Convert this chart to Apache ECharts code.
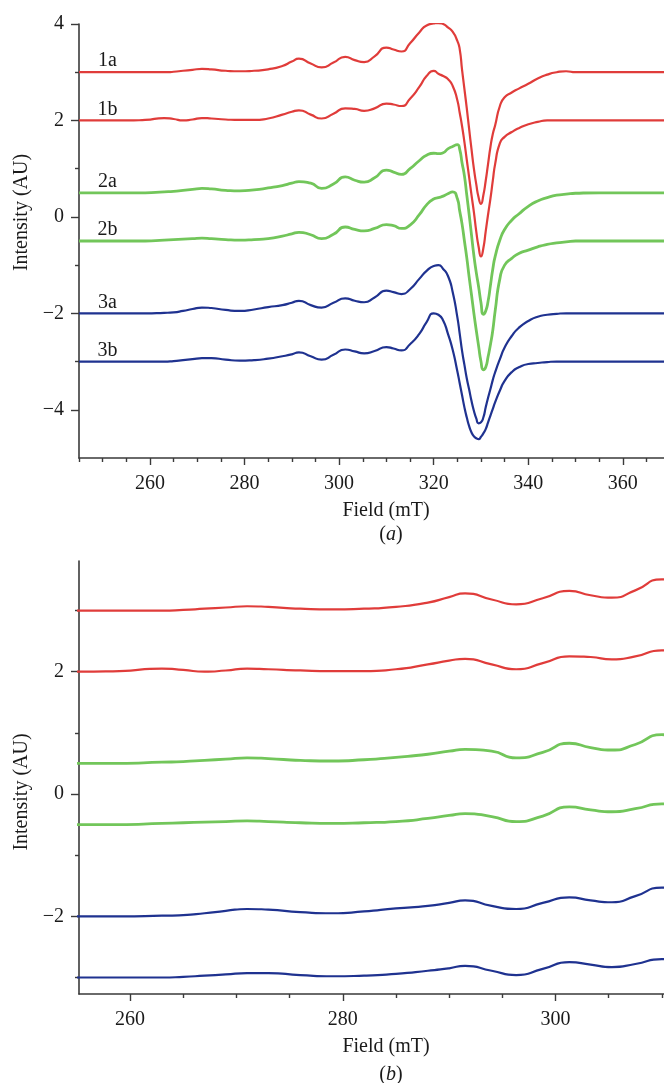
<!DOCTYPE html>
<html>
<head>
<meta charset="utf-8">
<script src="https://cdn.jsdelivr.net/npm/echarts@6/dist/echarts.min.js"></script>
<style>
html,body{margin:0;padding:0;background:#fff;}
#chart{width:664px;height:1083px;}
</style>
</head>
<body>
<div id="chart"></div>
<script>
// Magnetic field (mT) sample positions shared by all spectra
const field = [245, 250, 255, 259, 263, 265, 267, 269, 271, 273,
  276, 279, 282, 285, 288, 290, 291.5, 294, 296.3, 298.8,
  301.3, 303.3, 305.3, 307.5, 310, 311.5, 313.2, 315, 317, 318.5,
  320, 321, 322, 323, 324, 325, 325.5, 326, 326.5, 327,
  327.5, 328, 328.5, 329, 329.5, 330, 330.5, 331, 331.5, 332,
  332.5, 333, 334, 335, 336.5, 338, 340, 342, 344, 346,
  348, 350, 355, 360, 369];

const s1a = [3.00, 3.00, 3.00, 3.00, 3.00, 3.01, 3.03, 3.05, 3.07, 3.06,
  3.03, 3.02, 3.03, 3.06, 3.13, 3.22, 3.28, 3.18, 3.10, 3.20,
  3.32, 3.25, 3.21, 3.33, 3.51, 3.47, 3.43, 3.60, 3.83, 3.97,
  4.01, 4.02, 4.00, 3.93, 3.84, 3.65, 3.48, 3.05, 2.65, 2.25,
  1.82, 1.40, 1.00, 0.68, 0.40, 0.27, 0.45, 0.75, 1.10, 1.45,
  1.72, 1.90, 2.30, 2.48, 2.58, 2.66, 2.76, 2.87, 2.95, 3.00,
  3.02, 3.00, 3.00, 3.00, 3.00];

const s1b = [2.00, 2.00, 2.00, 2.01, 2.05, 2.03, 2.00, 2.02, 2.05, 2.04,
  2.02, 2.01, 2.01, 2.04, 2.12, 2.18, 2.21, 2.12, 2.04, 2.14,
  2.25, 2.24, 2.20, 2.25, 2.35, 2.33, 2.30, 2.45, 2.70, 2.92,
  3.03, 2.97, 2.92, 2.86, 2.72, 2.42, 2.16, 1.88, 1.55, 1.18,
  0.82, 0.45, 0.10, -0.30, -0.62, -0.82, -0.65, -0.30, 0.05, 0.38,
  0.75, 1.10, 1.53, 1.66, 1.76, 1.84, 1.92, 1.97, 2.00, 2.00,
  2.00, 2.00, 2.00, 2.00, 2.00];

const s2a = [0.50, 0.50, 0.50, 0.50, 0.52, 0.53, 0.55, 0.57, 0.59, 0.58,
  0.55, 0.54, 0.56, 0.60, 0.65, 0.70, 0.73, 0.70, 0.59, 0.68,
  0.83, 0.76, 0.72, 0.81, 0.97, 0.93, 0.88, 1.00, 1.17, 1.28,
  1.32, 1.31, 1.33, 1.41, 1.46, 1.50, 1.40, 1.12, 0.85, 0.45,
  0.05, -0.38, -0.80, -1.15, -1.45, -1.78, -2.02, -1.95, -1.75, -1.42,
  -1.08, -0.82, -0.48, -0.26, -0.07, 0.06, 0.22, 0.33, 0.40, 0.45,
  0.47, 0.49, 0.50, 0.50, 0.50];

const s2b = [-0.50, -0.50, -0.50, -0.50, -0.48, -0.47, -0.46, -0.45, -0.44, -0.45,
  -0.47, -0.48, -0.47, -0.45, -0.40, -0.35, -0.32, -0.37, -0.45, -0.36,
  -0.21, -0.26, -0.29, -0.24, -0.16, -0.18, -0.24, -0.17, 0.05, 0.25,
  0.37, 0.40, 0.43, 0.48, 0.52, 0.38, 0.12, -0.15, -0.50, -0.85,
  -1.25, -1.62, -2.00, -2.35, -2.68, -3.00, -3.17, -3.12, -2.90, -2.65,
  -2.35, -1.95, -1.28, -1.00, -0.86, -0.76, -0.69, -0.62, -0.57, -0.54,
  -0.52, -0.50, -0.50, -0.50, -0.50];

const s3a = [-2.00, -2.00, -2.00, -2.00, -1.99, -1.98, -1.95, -1.91, -1.88, -1.89,
  -1.93, -1.95, -1.92, -1.87, -1.83, -1.78, -1.74, -1.83, -1.88, -1.78,
  -1.69, -1.74, -1.77, -1.67, -1.53, -1.56, -1.60, -1.50, -1.28, -1.12,
  -1.02, -1.00, -1.08, -1.22, -1.55, -2.08, -2.42, -2.78, -3.07, -3.35,
  -3.58, -3.82, -4.02, -4.18, -4.28, -4.26, -4.16, -3.95, -3.75, -3.57,
  -3.38, -3.22, -2.95, -2.71, -2.47, -2.30, -2.16, -2.07, -2.03, -2.01,
  -2.00, -2.00, -2.00, -2.00, -2.00];

const s3b = [-3.00, -3.00, -3.00, -3.00, -3.00, -2.99, -2.97, -2.95, -2.93, -2.93,
  -2.96, -2.98, -2.97, -2.94, -2.89, -2.85, -2.81, -2.89, -2.96, -2.86,
  -2.75, -2.79, -2.83, -2.78, -2.70, -2.73, -2.77, -2.64, -2.42, -2.18,
  -2.00, -2.03, -2.15, -2.42, -2.75, -3.20, -3.45, -3.70, -3.95, -4.16,
  -4.34, -4.47, -4.55, -4.59, -4.61, -4.56, -4.49, -4.40, -4.26, -4.12,
  -3.98, -3.84, -3.60, -3.40, -3.22, -3.12, -3.05, -3.03, -3.01, -3.00,
  -3.00, -3.00, -3.00, -3.00, -3.00];

const seriesNames = ['1a', '1b', '2a', '2b', '3a', '3b'];
const seriesValues = [s1a, s1b, s2a, s2b, s3a, s3b];
const seriesColors = ['#e03c3a', '#e03c3a', '#72c65a', '#72c65a', '#1f3290', '#1f3290'];
const seriesWidths = [2.2, 2.2, 2.8, 2.8, 2.2, 2.2];

// Tick values
const xMajorA = [260, 280, 300, 320, 340, 360];
const xMinorA = [245, 250, 255, 265, 270, 275, 285, 290, 295, 305, 310, 315, 325, 330, 335, 345, 350, 355, 365];
const yMajorA = [-4, -2, 0, 2, 4];
const yMinorA = [-3, -1, 1, 3];
const xMajorB = [260, 280, 300];
const xMinorB = [265, 270, 275, 285, 290, 295, 305, 310];
const yMajorB = [-2, 0, 2];
const yMinorB = [-3, -1, 1, 3];
const labelField = 251;

const FONT = '"Liberation Serif", "DejaVu Serif", serif';
const TXT = '#1a1a1a';
const AX = '#3a3a3a';
const minus = v => String(v).replace('-', '\u2212');

function xAxes(grid, min, max, major, minor, labelMargin, gap) {
  return [{
    gridIndex: grid, type: 'value', min: min, max: max, position: 'bottom',
    name: 'Field (mT)', nameLocation: 'middle', nameGap: gap,
    nameTextStyle: {fontFamily: FONT, fontSize: 20, color: TXT, padding: [0, 0, 0, 29]},
    axisLine: {show: true, onZero: false, lineStyle: {color: AX, width: 1.6}},
    axisTick: {show: true, customValues: major, length: 7, lineStyle: {color: AX, width: 1.4}},
    axisLabel: {show: true, customValues: major, margin: labelMargin, fontFamily: FONT, fontSize: 20, color: TXT, formatter: minus},
    splitLine: {show: false}
  }, {
    gridIndex: grid, type: 'value', min: min, max: max, position: 'bottom', offset: 0,
    axisLine: {show: false, onZero: false},
    axisTick: {show: true, customValues: minor, length: 4, lineStyle: {color: AX, width: 1.4}},
    axisLabel: {show: false},
    splitLine: {show: false}
  }];
}
function yAxes(grid, min, max, major, minor, pad) {
  return [{
    gridIndex: grid, type: 'value', min: min, max: max, position: 'left',
    name: 'Intensity (AU)', nameLocation: 'middle', nameGap: 47, nameRotate: 90,
    nameTextStyle: {fontFamily: FONT, fontSize: 20, color: TXT, padding: pad},
    axisLine: {show: true, onZero: false, lineStyle: {color: AX, width: 1.6}},
    axisTick: {show: true, customValues: major, length: 8, lineStyle: {color: AX, width: 1.4}},
    axisLabel: {show: true, customValues: major, margin: 15, fontFamily: FONT, fontSize: 20, color: TXT, formatter: minus},
    splitLine: {show: false}
  }, {
    gridIndex: grid, type: 'value', min: min, max: max, position: 'left', offset: 0,
    axisLine: {show: false, onZero: false},
    axisTick: {show: true, customValues: minor, length: 4, lineStyle: {color: AX, width: 1.4}},
    axisLabel: {show: false},
    splitLine: {show: false}
  }];
}

const series = [];
seriesNames.forEach((name, i) => {
  const data = field.map((f, k) => [f, seriesValues[i][k]]);
  series.push({
    name: name, type: 'line', xAxisIndex: 0, yAxisIndex: 0, data: data,
    showSymbol: false, smooth: 0.6, clip: true, silent: true,
    lineStyle: {color: seriesColors[i], width: seriesWidths[i]},
    markPoint: {
      symbol: 'circle', symbolSize: 0, silent: true,
      data: [{coord: [labelField, seriesValues[i][1]], value: name}],
      label: {show: true, position: 'top', distance: 1, formatter: name,
        fontFamily: FONT, fontSize: 20, color: TXT}
    }
  });
});
seriesNames.forEach((name, i) => {
  const data = field.map((f, k) => [f, seriesValues[i][k]]);
  series.push({
    name: name + ' (b)', type: 'line', xAxisIndex: 2, yAxisIndex: 2, data: data,
    showSymbol: false, smooth: 0.6, clip: true, silent: true,
    lineStyle: {color: seriesColors[i], width: seriesWidths[i]}
  });
});

const option = {
  backgroundColor: '#ffffff',
  animation: false,
  grid: [
    {left: 79, top: 24, width: 585, height: 434, containLabel: false},
    {left: 79, top: 561, width: 585, height: 433, containLabel: false}
  ],
  xAxis: [].concat(
    xAxes(0, 245, 368.7, xMajorA, xMinorA, 16, 43),
    xAxes(1, 255.2, 310.2, xMajorB, xMinorB, 16, 43)
  ),
  yAxis: [].concat(
    yAxes(0, -5, 4, yMajorA, yMinorA, [0, 0, 0, 57]),
    yAxes(1, -3.27, 3.81, yMajorB, yMinorB, [0, 29, 0, 0])
  ),
  title: [
    {text: '({i|a})', left: 386, top: 520, textAlign: 'center',
      textStyle: {fontFamily: FONT, fontSize: 20, fontWeight: 'normal', color: TXT,
        rich: {i: {fontFamily: FONT, fontSize: 20, fontStyle: 'italic', color: TXT}}}},
    {text: '({i|b})', left: 386, top: 1060, textAlign: 'center',
      textStyle: {fontFamily: FONT, fontSize: 20, fontWeight: 'normal', color: TXT,
        rich: {i: {fontFamily: FONT, fontSize: 20, fontStyle: 'italic', color: TXT}}}}
  ],
  series: series
};

const chart = echarts.init(document.getElementById('chart'), null, {renderer: 'canvas'});
chart.setOption(option);
</script>
</body>
</html>
